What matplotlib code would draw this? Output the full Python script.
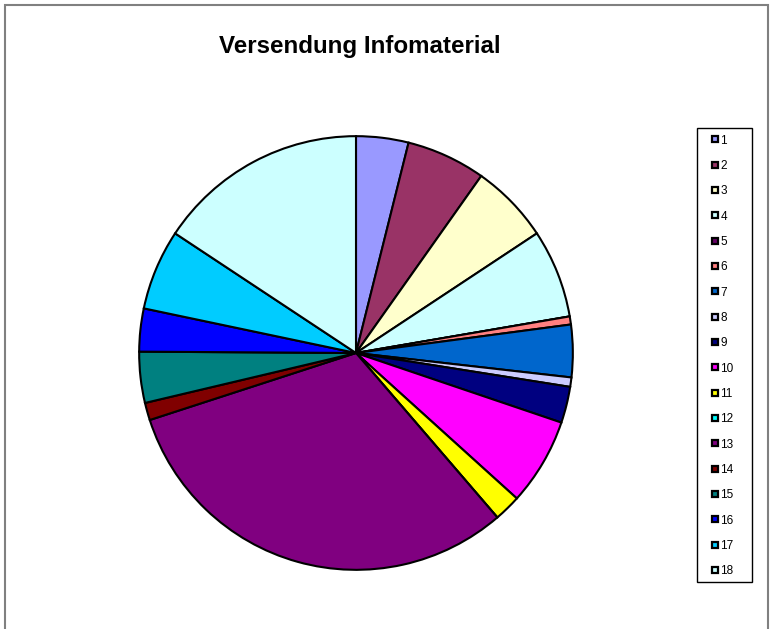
import matplotlib
matplotlib.use('Agg')
import matplotlib.pyplot as plt
from matplotlib.lines import Line2D
from matplotlib.patches import Rectangle

plt.rc('font', family='Liberation Sans')

# share per item, clockwise from 12 o'clock
labels = [str(i) for i in range(1, 19)]
values = [3.9, 5.9, 5.9, 6.6, 0.0, 0.6, 3.9, 0.7, 2.7, 6.5, 2.0, 0.0,
          31.3, 1.3, 3.8, 3.2, 6.0, 15.7]
colors = ['#9999FF', '#993366', '#FFFFCC', '#CCFFFF', '#660066', '#FF8080',
          '#0066CC', '#CCCCFF', '#000080', '#FF00FF', '#FFFF00', '#00FFFF',
          '#800080', '#800000', '#008080', '#0000FF', '#00CCFF', '#CCFFFF']

W, H = 773, 629
fig = plt.figure(figsize=(W / 100, H / 100), dpi=100)

# chart area border
fig.patches.append(Rectangle((5 / W, -0.05), 763 / W, 1 - 5 / H + 0.05,
                             transform=fig.transFigure, fill=False,
                             edgecolor='#808080', linewidth=1.5))

cx, cy, r = 356, H - 353, 219
ax = fig.add_axes([(cx - r) / W, (cy - r) / H, 2 * r / W, 2 * r / H])
wedges, _ = ax.pie(values, colors=colors, startangle=90, counterclock=False,
                   wedgeprops=dict(edgecolor='black', linewidth=1.5))
ax.set_xlim(-1.01, 1.01)
ax.set_ylim(-1.01, 1.01)
ax.set_aspect('equal')
ax.axis('off')

fig.text(360 / W, 1 - 46 / H, 'Versendung Infomaterial', ha='center',
         va='center', fontsize=17.4, fontweight='bold')

# legend box
fig.patches.append(Rectangle((697 / W, 1 - 582 / H), 55 / W, 454.5 / H,
                             transform=fig.transFigure, fill=False,
                             edgecolor='black', linewidth=1.0))
handles = [Line2D([], [], linestyle='none', marker='s', markersize=4,
                  markerfacecolor=c, markeredgecolor='black',
                  markeredgewidth=1.6) for c in colors]
leg = fig.legend(handles, labels, loc='upper left',
                 bbox_to_anchor=(711 / W, 1 - 134.5 / H),
                 fontsize=8.5, frameon=False, labelspacing=1.13,
                 handlelength=0.6, handletextpad=0.2, borderpad=0,
                 borderaxespad=0)

fig.savefig('out.png', dpi=100)
